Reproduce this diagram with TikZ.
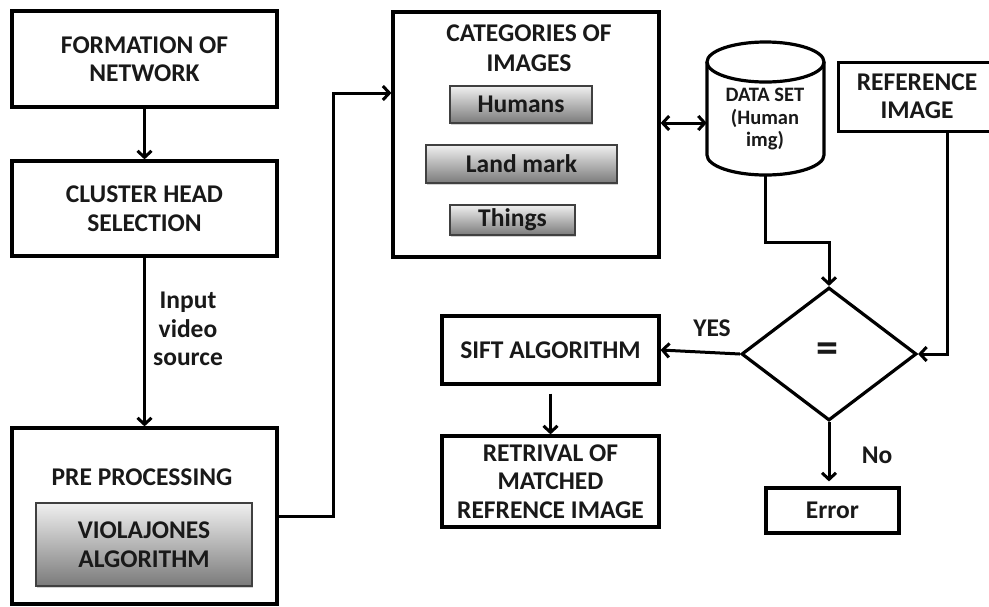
\documentclass[tikz,border=0pt]{standalone}
\usepackage{fontspec}
\setmainfont{Carlito}
\usetikzlibrary{arrows.meta,shapes.geometric,shadows}
\begin{document}
\begin{tikzpicture}[x=1pt,y=-1pt,
  txt/.style={font=\fontsize{25.5}{28.5}\selectfont\bfseries, text=black!90, align=center},
  box/.style={draw, line width=3.2pt, inner sep=0pt, txt},
  gbox/.style={draw=black!75, line width=1.5pt, top color=black!6, bottom color=black!52, inner sep=0pt, txt,
    drop shadow={shadow xshift=1.2pt, shadow yshift=-1.6pt, opacity=0.35}},
  barb/.tip={Straight Barb[length=6.5pt,width=14pt]},
  arr/.style={line width=3pt, -barb},
  darr/.style={line width=3pt, barb-barb},
  plain/.style={line width=3.2pt}
]
\useasboundingbox (0,0) rectangle (989,606);
\fill[white] (0,0) rectangle (989,606);

% left column
\node[box, minimum width=265pt, minimum height=96pt] (form) at (144.5,59) {FORMATION OF\\NETWORK};
\node[box, minimum width=265pt, minimum height=95pt] (clus) at (144.5,208.5) {CLUSTER HEAD\\SELECTION};
\node[box, minimum width=265pt, minimum height=176pt] (pre) at (144.5,516) {};
\node[txt] (pret) at (142,477) {PRE PROCESSING};
\node[gbox, minimum width=216pt, minimum height=83pt] (viola) at (144,544.5) {VIOLAJONES\\ALGORITHM};
\node[txt] (ivs) at (188,329) {Input\\video\\source};

% categories
\node[box, minimum width=266pt, minimum height=245pt] (cat) at (526,134.5) {};
\node[txt, font=\fontsize{25.5}{29.5}\selectfont\bfseries] (catt) at (529,48) {CATEGORIES OF\\IMAGES};
\node[gbox, minimum width=142pt, minimum height=37pt] (hum) at (521,104.5) {Humans};
\node[gbox, minimum width=191pt, minimum height=38pt] (land) at (521.5,164) {Land mark};
\node[gbox, minimum width=125pt, minimum height=30pt] (thing) at (512.5,220) {Things};

% data set cylinder
\node[inner sep=0pt, minimum width=117pt, minimum height=133pt] (ds) at (765.5,108.5) {};
\draw[plain] (707,62) -- (707,155) .. controls (707,166) and (733.2,175) .. (765.5,175)
  .. controls (797.8,175) and (824,166) .. (824,155) -- (824,62);
\draw[plain] (765.5,62) ellipse [x radius=58.5, y radius=20];
\node[txt, font=\fontsize{20.5}{22.5}\selectfont\bfseries] (dst) at (765,119.5) {DATA SET\\(Human\\img)};

% reference image (cut by the right edge)
\node[inner sep=0pt, minimum width=150pt, minimum height=68pt] (ref) at (914,97) {};
\draw[plain] (ref.north east) -- (ref.north west) -- (ref.south west) -- (ref.south east);
\node[txt] (reft) at (917,96) {REFERENCE\\IMAGE};

% decision
\node[draw, diamond, line width=3.2pt, minimum width=175pt, minimum height=133pt, inner sep=0pt] (dia) at (829,354) {};
\node[font=\fontsize{44}{44}\selectfont\bfseries, text=black!90] (eq) at (827,353) {=};

% lower boxes
\node[box, minimum width=217pt, minimum height=68pt] (sift) at (550.5,350) {SIFT ALGORITHM};
\node[box, minimum width=217pt, minimum height=91pt] (retr) at (550.5,481.5) {RETRIVAL OF\\MATCHED\\REFRENCE IMAGE};
\node[box, minimum width=133pt, minimum height=45pt] (err) at (832.5,510.5) {Error};

% labels
\node[txt] (yes) at (712,328) {YES};
\node[txt] (no) at (877,455) {No};

% connectors
\coordinate (c1) at (333,93);
\coordinate (c2) at (0,123);
\coordinate (c3) at (766,242);
\coordinate (c4) at (947,354);
\draw[arr] (form) -- (clus);
\draw[arr] (clus) -- (pre);
\draw[arr] (pre.east) -| (c1) -- (cat.west |- c1);
\draw[darr] (cat.east |- c2) -- (ds.west |- c2);
\draw[arr] (ds.south) -- (ds.south |- c3) -| (dia.north);
\draw[arr] (c4 |- ref.south) -- (c4) -- (dia.east);
\draw[arr] (dia.west) -- (sift.east);
\draw[arr, shorten <=8pt] (sift) -- (retr);
\draw[arr, shorten >=5pt] (dia.south) -- (dia.south |- err.north);
\end{tikzpicture}
\end{document}
